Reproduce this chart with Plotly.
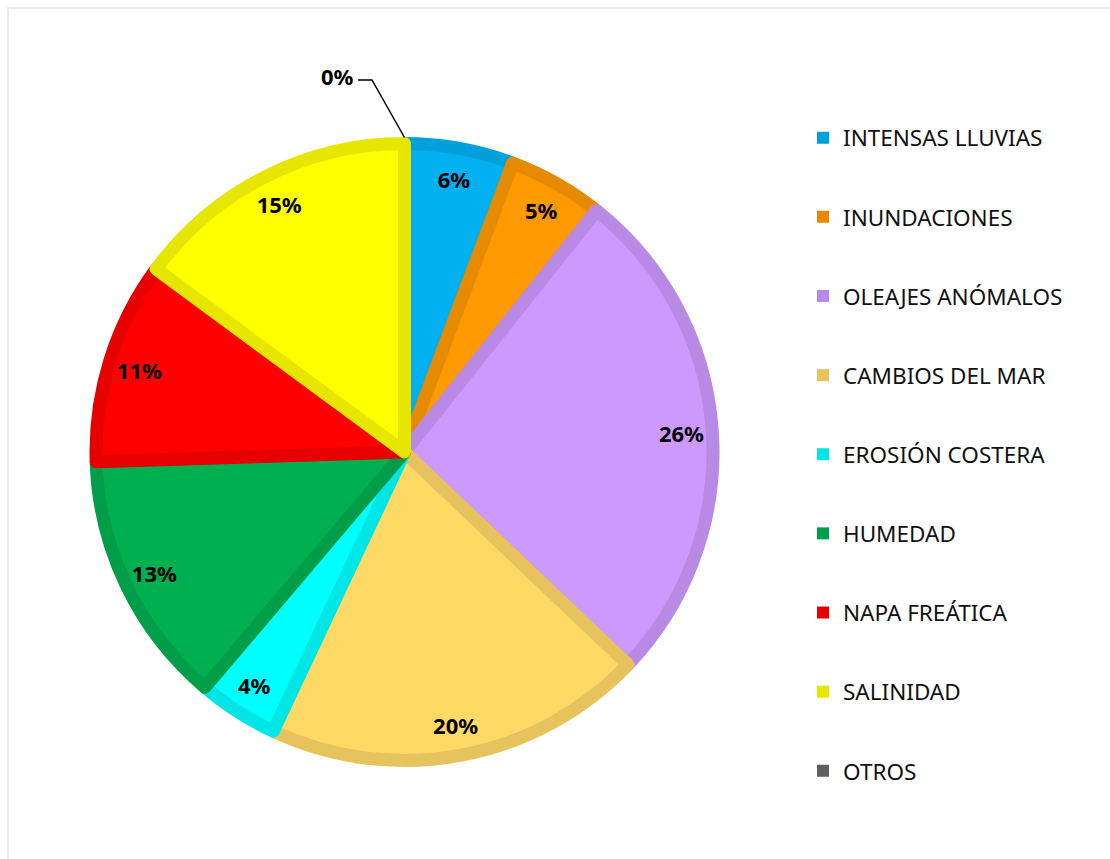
import plotly.graph_objects as go

# Causas de deterioro (porcentaje)
categorias = ["INTENSAS LLUVIAS", "INUNDACIONES", "OLEAJES ANÓMALOS", "CAMBIOS DEL MAR",
              "EROSIÓN COSTERA", "HUMEDAD", "NAPA FREÁTICA", "SALINIDAD", "OTROS"]
valores = [5.7, 5.0, 26.4, 19.9, 4.2, 13.3, 10.6, 14.9, 0.0]

relleno = ["#00B0F0", "#FF9900", "#CC99FF", "#FFD966", "#00FFFF", "#00B050", "#FF0000", "#FFFF00", "#595959"]
borde = ["#00A0DC", "#E68A00", "#B88AE6", "#E6C35C", "#00E6E6", "#009E48", "#E60000", "#E6E600", "#5F5F5F"]

W, H = 1110, 859
CX, CY, R = 404.5, 452, 308.5  # centro y radio del pastel en píxeles
GROSOR = 13

dom_x = [(CX - R) / W, (CX + R) / W]
dom_y = [(H - CY - R) / H, (H - CY + R) / H]

fig = go.Figure()

# Pastel principal con borde del mismo tono más oscuro
fig.add_trace(go.Pie(
    values=valores, labels=categorias, sort=False, direction="clockwise", rotation=0,
    marker=dict(colors=relleno,
                line=dict(color=borde, width=[GROSOR if v > 0 else 0 for v in valores])),
    textinfo="none", showlegend=False, domain=dict(x=dom_x, y=dom_y),
    hoverinfo="label+percent",
))

# Etiquetas de porcentaje cerca del borde exterior (anillo transparente)
plantillas = ["%{percent:.0%}" if v > 0 else "" for v in valores]
fig.add_trace(go.Pie(
    values=valores, labels=categorias, sort=False, direction="clockwise", rotation=0,
    hole=0.80, marker=dict(colors=["rgba(0,0,0,0)"] * len(valores), line=dict(width=0)),
    texttemplate=plantillas, textposition="inside", insidetextorientation="horizontal",
    textfont=dict(family="Noto Sans", size=22, color="black", weight="bold"),
    showlegend=False, domain=dict(x=dom_x, y=dom_y), hoverinfo="skip",
))

# Leyenda con cuadrados de color
for nombre, col in zip(categorias, borde):
    fig.add_trace(go.Scatter(
        x=[None], y=[None], mode="markers", name=nombre, legendgroup=nombre,
        marker=dict(symbol="square", size=15, color=col),
    ))

# Etiqueta del sector de 0% con línea guía
top_x = CX / W
top_y = (H - CY + R + 6) / H
fig.add_shape(type="path", xref="paper", yref="paper",
              path=f"M {358 / W},{(H - 80) / H} L {372 / W},{(H - 80) / H} L {top_x},{top_y}",
              line=dict(color="black", width=1.5))
fig.add_annotation(x=356 / W, y=(H - 76) / H, xref="paper", yref="paper", xanchor="right",
                   yanchor="middle", text="<b>0%</b>", showarrow=False,
                   font=dict(family="Noto Sans", size=22, color="black"))

# Marco del gráfico
fig.add_shape(type="rect", xref="paper", yref="paper", x0=8 / W, y0=-0.05, x1=1.05, y1=(H - 8) / H,
              line=dict(color="#EBEBEB", width=2))

fig.update_layout(
    width=W, height=H, margin=dict(l=0, r=0, t=0, b=0),
    paper_bgcolor="white", plot_bgcolor="white",
    xaxis=dict(visible=False), yaxis=dict(visible=False),
    legend=dict(x=803 / W, y=(H - 116.5) / H, xanchor="left", yanchor="top",
                font=dict(family="Noto Sans", size=22.5, color="#111111"),
                tracegroupgap=46.9, itemsizing="constant", traceorder="grouped",
                bgcolor="rgba(0,0,0,0)"),
    font=dict(family="Noto Sans"),
)

fig.write_html("out.html")
